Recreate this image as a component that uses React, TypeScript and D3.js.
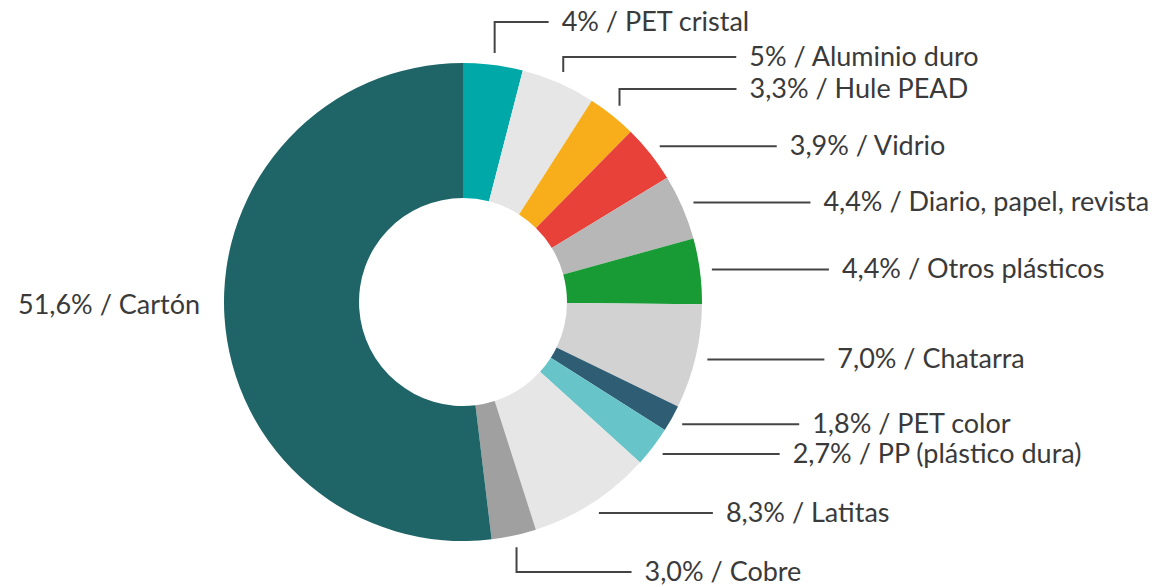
import React, { useEffect, useRef } from 'react';
import * as d3 from 'd3';

// Composición de residuos (%)
const categories = [
    'PET cristal', 'Aluminio duro', 'Hule PEAD', 'Vidrio', 'Diario, papel, revista',
    'Otros plásticos', 'Chatarra', 'PET color', 'PP (plástico dura)', 'Latitas', 'Cobre', 'Cartón'
];
const values = [4, 5, 3.3, 3.9, 4.4, 4.4, 7.0, 1.8, 2.7, 8.3, 3.0, 51.6];
const valueLabels = ['4%', '5%', '3,3%', '3,9%', '4,4%', '4,4%', '7,0%', '1,8%', '2,7%', '8,3%', '3,0%', '51,6%'];
const colors = [
    '#00a8a8', '#e6e6e6', '#f8ae1a', '#e8413a', '#b7b7b7', '#189b35',
    '#d2d2d2', '#2f5e74', '#67c4c8', '#e6e6e6', '#a0a0a0', '#1f6568'
];

// leader layout: 'v' = goes up/down to a fixed row first, 'h' = straight out
const leaderKind = ['v', 'v', 'v', 'h', 'h', 'h', 'h', 'h', 'h', 'h', 'v', 'none'];
const leaderRowY = [22, 57, 89, 0, 0, 0, 0, 0, 0, 0, 572, 0];
const leaderLen = [54, 173, 117, 117, 117, 117, 117, 117, 117, 114, 115, 0];

interface Slice {
    name: string;
    value: number;
    label: string;
    color: string;
    i: number;
}

export default function App() {
    const svgRef = useRef<SVGSVGElement>(null);
    const width = 1171;
    const height = 587;

    useEffect(() => {
        if (!svgRef.current) return;
        const svg = d3.select(svgRef.current);
        svg.selectAll('*').remove();

        const cx = 463, cy = 302;
        const outerR = 239, innerR = 104;

        const slices: Slice[] = categories.map((name, i) => ({
            name, value: values[i], label: valueLabels[i], color: colors[i], i
        }));

        const pie = d3.pie<Slice>().sort(null).value(d => d.value);
        const arcs = pie(slices);
        const arc = d3.arc<d3.PieArcDatum<Slice>>().innerRadius(innerR).outerRadius(outerR);

        const g = svg.append('g').attr('transform', `translate(${cx},${cy})`);

        g.selectAll('path.slice')
            .data(arcs)
            .enter().append('path')
            .attr('class', 'slice')
            .attr('d', arc)
            .attr('fill', d => d.data.color);

        const font = "'Source Sans Pro', Lato, 'Open Sans', sans-serif";
        const textColor = '#3a3a3a';
        const fontSize = '27px';

        arcs.forEach(a => {
            const i = a.data.i;
            const kind = leaderKind[i];
            const text = `${a.data.label} / ${a.data.name}`;

            if (kind === 'none') {
                // Cartón: plain label left of the ring
                svg.append('text')
                    .attr('x', 18)
                    .attr('y', cy + 1)
                    .attr('dominant-baseline', 'central')
                    .style('font-family', font)
                    .style('font-size', fontSize)
                    .style('fill', textColor)
                    .text(text);
                return;
            }

            const mid = (a.startAngle + a.endAngle) / 2;
            const r0 = 251;
            const sx = cx + r0 * Math.sin(mid);
            const sy = cy - r0 * Math.cos(mid);

            let pts: [number, number][];
            let ty: number;
            if (kind === 'v') {
                ty = leaderRowY[i];
                pts = [[sx, sy], [sx, ty], [sx + leaderLen[i], ty]];
            } else {
                ty = sy;
                pts = [[sx, sy], [sx + leaderLen[i], sy]];
            }
            const end = pts[pts.length - 1];

            svg.append('path')
                .attr('d', d3.line()(pts))
                .attr('fill', 'none')
                .attr('stroke', '#444')
                .attr('stroke-width', 2);

            svg.append('text')
                .attr('x', end[0] + 13)
                .attr('y', ty - 2)
                .attr('dominant-baseline', 'central')
                .style('font-family', font)
                .style('font-size', fontSize)
                .style('fill', textColor)
                .text(text);
        });
    }, []);

    return (
        <svg ref={svgRef} width={width} height={height}
            style={{ position: 'absolute', left: 0, top: 0, background: '#fff' }} />
    );
}
